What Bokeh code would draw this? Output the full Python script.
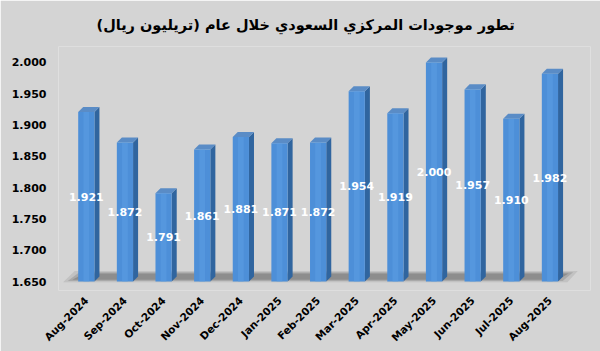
import math
from bokeh.plotting import figure
from bokeh.models import ColumnDataSource, FixedTicker, Range1d
from bokeh.core.properties import value
from bokeh.embed import file_html
from bokeh.resources import INLINE

months = ["Aug-2024", "Sep-2024", "Oct-2024", "Nov-2024", "Dec-2024", "Jan-2025",
          "Feb-2025", "Mar-2025", "Apr-2025", "May-2025", "Jun-2025", "Jul-2025", "Aug-2025"]
assets = [1.921, 1.872, 1.791, 1.861, 1.881, 1.871, 1.872, 1.954, 1.919, 2.000, 1.957, 1.910, 1.982]
y_ticks = [1.650, 1.700, 1.750, 1.800, 1.850, 1.900, 1.950, 2.000]
title_text = "تطور موجودات المركزي السعودي خلال عام (تريليون ريال)"

BASE = 1.650
W = 0.42          # front face width (x units)
DX = 0.13         # depth offset x (x units)
DY = 0.008        # depth offset y (y units)

xs = list(range(len(months)))
labels_txt = [f"{v:.3f}" for v in assets]
mid = [(BASE + v) / 2 for v in assets]

front = ColumnDataSource(dict(x=xs, top=assets, lab=labels_txt, mid=mid))

side_xs, side_ys, top_xs, top_ys = [], [], [], []
for x, v in zip(xs, assets):
    r = x + W / 2
    l = x - W / 2
    side_xs.append([r, r, r + DX, r + DX])
    side_ys.append([BASE, v, v + DY, BASE + DY])
    top_xs.append([l, r, r + DX, l + DX])
    top_ys.append([v, v, v + DY, v + DY])

BG = "#d4d4d4"
p = figure(width=600, height=351, output_backend="svg", toolbar_location=None,
           x_range=Range1d(-0.72, 13.05), y_range=Range1d(1.6357, 2.0255),
           min_border_left=58, min_border_right=10, min_border_top=45, min_border_bottom=61,
           background_fill_color=BG, border_fill_color=BG, outline_line_color=None)

p.title.text = title_text
p.title.align = "left"
p.title.text_font = "DejaVu Sans"
p.title.text_font_size = "14.5px"
p.title.text_font_style = "bold"
p.title.text_color = "#000000"
p.title.offset = 38
p.title.standoff = 28

# floor shadow (layered for soft gradient)
n0 = xs[0]
n1 = xs[-1]
for k, (a, c) in enumerate([(0.25, "#8c8c8c"), (0.35, "#7a7a7a"), (0.45, "#6a6a6a")]):
    inset = k * 0.12
    p.patch([n0 - 0.6 + inset, n1 + 0.45 - inset, n1 + 0.72 - inset, n0 - 0.3 + inset],
            [BASE - 0.001 + k * 0.002, BASE - 0.001 + k * 0.002, BASE + 0.017 - k * 0.002, BASE + 0.017 - k * 0.002],
            fill_color=c, fill_alpha=a, line_color=None)

p.patches(side_xs, side_ys, fill_color="#30659f", line_color=None)
p.patches(top_xs, top_ys, fill_color="#5a8cc6", line_color=None)
p.vbar(x="x", top="top", bottom=BASE, width=W, source=front,
       fill_color="#4d8fd8", line_color=None)
p.vbar(x="x", top="top", bottom=BASE, width=W * 0.35, source=front,
       fill_color="#5c9de2", line_color=None, fill_alpha=0.6)

p.text(x="x", y="mid", text="lab", source=front, text_align="center",
       text_baseline="middle", text_color="white", text_font=value("DejaVu Sans"),
       text_font_size="11px", text_font_style="bold")

p.xgrid.grid_line_color = None
p.ygrid.grid_line_color = None

p.yaxis.ticker = FixedTicker(ticks=y_ticks)
p.yaxis.formatter.use_scientific = False
p.yaxis.major_label_overrides = {t: f"{t:.3f}" for t in y_ticks}
p.yaxis.axis_line_color = None
p.yaxis.major_tick_line_color = None
p.yaxis.minor_tick_line_color = None
p.yaxis.major_label_text_font = "DejaVu Sans"
p.yaxis.major_label_text_font_style = "bold"
p.yaxis.major_label_text_font_size = "11px"
p.yaxis.major_label_text_color = "#000000"
p.yaxis.major_label_standoff = 6

p.xaxis.ticker = FixedTicker(ticks=xs)
p.xaxis.major_label_overrides = {i: m for i, m in enumerate(months)}
p.xaxis.major_label_orientation = math.pi / 4
p.xaxis.axis_line_color = None
p.xaxis.major_tick_line_color = None
p.xaxis.minor_tick_line_color = None
p.xaxis.major_label_text_font = "DejaVu Sans"
p.xaxis.major_label_text_font_style = "bold"
p.xaxis.major_label_text_font_size = "10.5px"
p.xaxis.major_label_text_color = "#000000"
p.xaxis.major_label_standoff = 2

open("out.html", "w").write(file_html(p, INLINE))
